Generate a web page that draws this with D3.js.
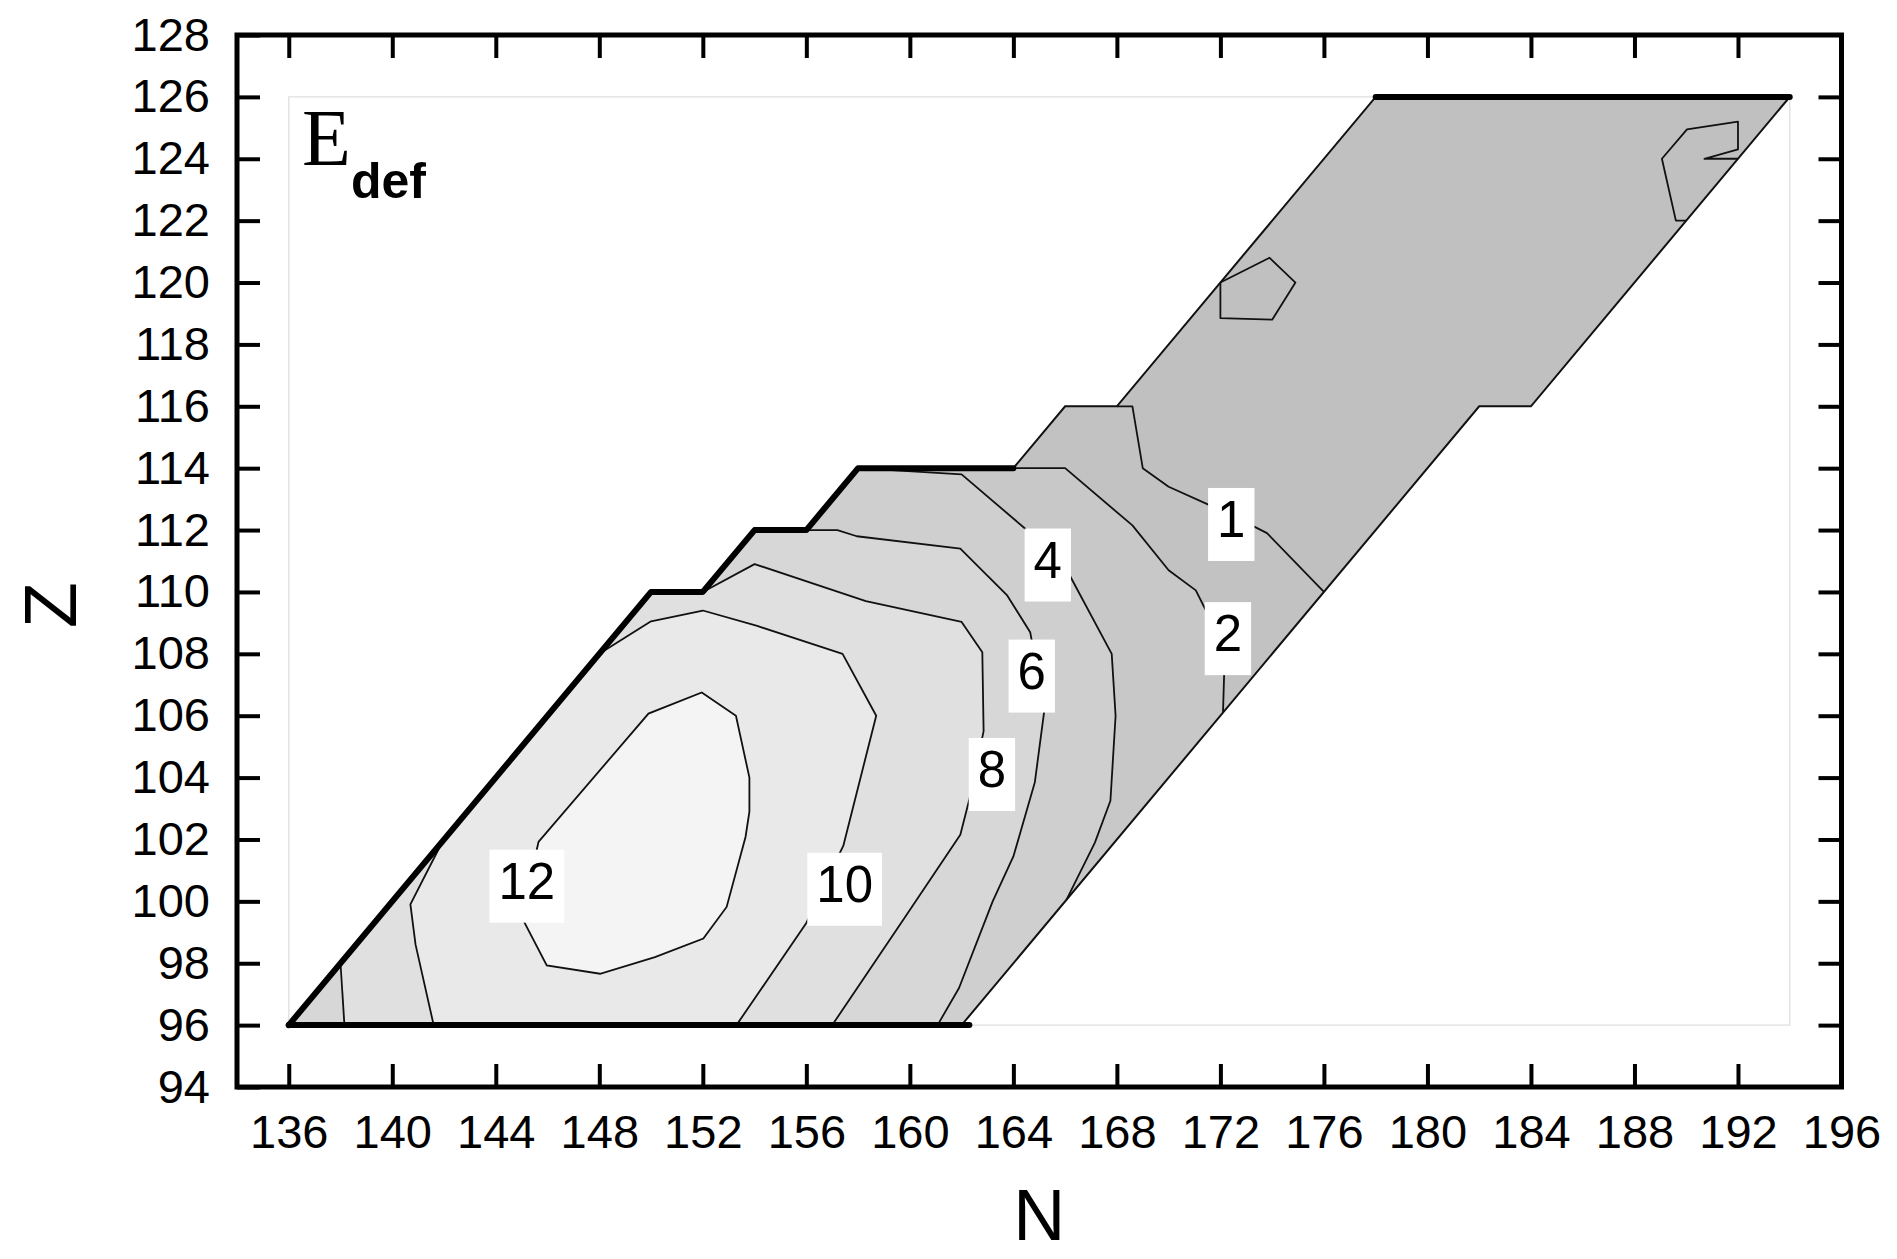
<!DOCTYPE html>
<html>
<head>
<meta charset="utf-8">
<script src="https://cdn.jsdelivr.net/npm/d3@7"></script>
<style>
  body { margin: 0; background: #fff; }
  svg { display: block; }
</style>
</head>
<body>
<div id="chart"></div>
<script>
// Axes
const nTicks = [136, 140, 144, 148, 152, 156, 160, 164, 168, 172, 176, 180, 184, 188, 192, 196];
const zTicks = [94, 96, 98, 100, 102, 104, 106, 108, 110, 112, 114, 116, 118, 120, 122, 124, 126, 128];

// Contour levels of E_def
const levels = [1, 2, 4, 6, 8, 10, 12];

// Border of the calculated region (N, Z)
const border = [[136, 96], [162, 96], [182, 116], [184, 116], [194, 126], [178, 126], [168, 116],
  [166, 116], [164, 114], [158, 114], [156, 112], [154, 112], [152, 110], [150, 110]];
// Lower and upper-left part of the border, from the lower right corner
const borderLeft = [[162, 96], [136, 96], [150, 110], [152, 110], [154, 112], [156, 112], [158, 114], [164, 114], [166, 116]];
// Border pieces drawn heavy
const heavyBottom = [[136, 96], [162.3, 96]];
const heavyStairs = [[136, 96], [150, 110], [152, 110], [154, 112], [156, 112], [158, 114], [164, 114]];
const heavyTop = [[178, 126], [194, 126]];

// Contour lines (N, Z)
const c1 = [[168, 116], [168.6, 116], [169, 114], [170, 113.4], [171.6, 112.8], [173.1, 112.2], [173.8, 111.9], [176, 110]];
const c2 = [[164, 114], [166, 114], [168.6, 112.15], [170, 110.7], [171.05, 110.05], [171.5, 109.3], [172.15, 107.5], [172.1, 106.1]];
const c4 = [[158, 114], [162, 113.8], [164.45, 112.05], [166.2, 110.5], [167.8, 108], [167.95, 106], [167.75, 103.25], [167.15, 101.9], [166.05, 100.05]];
const c6 = [[154, 112], [157.2, 112], [157.95, 111.8], [161.95, 111.4], [163.75, 109.9], [164.65, 108.7], [165.2, 106.2],
  [164.83, 103.85], [164, 101.45], [163.2, 100], [161.9, 97.2], [161.07, 96]];
const c8 = [[152, 110], [154, 110.9], [158.3, 109.7], [162, 109.03], [162.8, 108.05], [162.85, 105.5], [162.3, 103.3],
  [161.95, 102.15], [159.7, 99.35], [157, 96]];
const c8left = [[138, 98], [138.15, 96]];
const c10 = [[148, 108], [150, 109.05], [152, 109.4], [154.1, 108.9], [157.4, 108], [158.7, 106], [157.43, 101.8], [156, 99.3], [153.3, 96]];
const c10left = [[141.95, 101.95], [140.7, 99.9], [140.9, 98.6], [141.6, 96]];
const c12 = [[145.65, 101.92], [149.9, 106.07], [151.96, 106.75], [153.28, 106], [153.8, 104], [153.8, 102.9], [153.65, 102.08],
  [152.92, 99.82], [152.02, 98.8], [150.15, 98.2], [148.03, 97.66], [145.97, 97.93], [145, 99.49]];
// small islands in the upper part
const island1 = [[172, 120], [173.9, 120.8], [174.9, 120], [174, 118.8], [172, 118.85], [172, 120]];
const island2 = [[190, 122], [189.6, 122], [189.06, 124], [190.03, 124.95], [192, 125.2], [192, 124.3], [190.7, 124], [192, 124]];

// Contour labels (value, N, Z)
const labelText = ["12", "10", "8", "6", "4", "2", "1"];
const labelN = [145.2, 157.48, 163.17, 164.71, 165.33, 172.29, 172.42];
const labelZ = [100.68, 100.58, 104.29, 107.47, 111.06, 108.68, 112.37];

// gray for each band (below 1, then above each level)
const grays = ["#c0c0c0", "#c2c2c2", "#c8c8c8", "#cfcfcf", "#d7d7d7", "#e0e0e0", "#e9e9e9", "#f4f4f4"];

const W = 1897, H = 1259;
const svg = d3.select("#chart").append("svg")
  .attr("width", W).attr("height", H);

const x = d3.scaleLinear().domain([134, 196]).range([237, 1841.5]);
const y = d3.scaleLinear().domain([94, 128]).range([1087, 35]);

const line = d3.line().x(d => x(d[0])).y(d => y(d[1]));
const poly = pts => line(pts) + "Z";

// zones above each level
const zones = [
  c1.concat(borderLeft),
  c2.concat(borderLeft.slice(0, 7)),
  c4.concat(borderLeft.slice(0, 6)),
  c6.concat(borderLeft.slice(1, 4)),
  c8left.concat(c8.slice().reverse(), [[150, 110]]),
  c10left.concat(c10.slice().reverse()),
  c12
];

svg.append("clipPath").attr("id", "region")
  .append("path").attr("d", poly(border));

// faint grid frame
svg.append("rect")
  .attr("x", x(136)).attr("y", y(126))
  .attr("width", x(194) - x(136)).attr("height", y(96) - y(126))
  .attr("fill", "none").attr("stroke", "#e4e4e4").attr("stroke-width", 1.5);

const fillG = svg.append("g").attr("clip-path", "url(#region)");
fillG.append("path").attr("d", poly(border)).attr("fill", grays[0]);
fillG.selectAll("path.zone")
  .data(zones)
  .join("path")
  .attr("class", "zone")
  .attr("d", poly)
  .attr("fill", (d, i) => grays[i + 1]);

// contour lines
const lines = [c1, c2, c4, c6, c8, c8left, c10, c10left, island1, island2];
svg.append("g").selectAll("path")
  .data(lines)
  .join("path")
  .attr("d", line)
  .attr("fill", "none")
  .attr("stroke", "#111")
  .attr("stroke-width", 1.8)
  .attr("stroke-linejoin", "round");
svg.append("path").attr("d", poly(c12))
  .attr("fill", "none").attr("stroke", "#111").attr("stroke-width", 1.8);

// border
svg.append("path").attr("d", poly(border))
  .attr("fill", "none").attr("stroke", "#111").attr("stroke-width", 2);
svg.append("g").selectAll("path")
  .data([heavyBottom, heavyStairs, heavyTop])
  .join("path")
  .attr("d", line)
  .attr("fill", "none")
  .attr("stroke", "#000")
  .attr("stroke-width", 6)
  .attr("stroke-linecap", "round")
  .attr("stroke-linejoin", "round");

// contour labels with white boxes
const lab = svg.append("g").selectAll("g")
  .data(labelText)
  .join("g")
  .attr("transform", (d, i) => `translate(${x(labelN[i])},${y(labelZ[i])})`);
lab.append("text")
  .attr("text-anchor", "middle")
  .attr("dy", "0.36em")
  .style("font-family", "'Liberation Sans', Arial, sans-serif")
  .style("font-size", "51px")
  .text(d => d);
lab.each(function() {
  const g = d3.select(this);
  const b = g.select("text").node().getBBox();
  g.insert("rect", "text")
    .attr("x", b.x - 9).attr("y", b.y - 3)
    .attr("width", b.width + 18).attr("height", b.height + 16)
    .attr("fill", "#fff");
});

// axes
const fontAx = "'Liberation Sans', Arial, sans-serif";
const styleAxis = g => {
  g.select(".domain").remove();
  g.selectAll(".tick line").attr("stroke", "#000").attr("stroke-width", 4);
  g.selectAll(".tick text").style("font-family", fontAx).style("font-size", "47px").attr("fill", "#000");
};
svg.append("g")
  .attr("transform", `translate(0,${y(94)})`)
  .call(d3.axisBottom(x).tickValues(nTicks).tickSize(-23).tickPadding(28).tickFormat(d3.format("d")))
  .call(styleAxis);
svg.append("g")
  .attr("transform", `translate(0,${y(128)})`)
  .call(d3.axisTop(x).tickValues(nTicks.slice(0, -1)).tickSize(-23).tickFormat(""))
  .call(styleAxis);
svg.append("g")
  .attr("transform", `translate(${x(134)},0)`)
  .call(d3.axisLeft(y).tickValues(zTicks).tickSize(-23).tickPadding(27).tickFormat(d3.format("d")))
  .call(styleAxis);
svg.append("g")
  .attr("transform", `translate(${x(196)},0)`)
  .call(d3.axisRight(y).tickValues(zTicks.slice(1, -1)).tickSize(-23).tickFormat(""))
  .call(styleAxis);

svg.append("rect")
  .attr("x", x(134)).attr("y", y(128))
  .attr("width", x(196) - x(134)).attr("height", y(94) - y(128))
  .attr("fill", "none").attr("stroke", "#000").attr("stroke-width", 5);

// axis titles
svg.append("text")
  .attr("x", (x(134) + x(196)) / 2).attr("y", 1240)
  .attr("text-anchor", "middle")
  .style("font-family", fontAx).style("font-size", "72px")
  .text("N");
svg.append("text")
  .attr("transform", `translate(76,${(y(94) + y(128)) / 2 + 44}) rotate(-90)`)
  .attr("text-anchor", "middle")
  .style("font-family", fontAx).style("font-size", "75px")
  .text("Z");

// panel label
const t = svg.append("text").attr("x", 302).attr("y", 165);
t.append("tspan")
  .style("font-family", "'Liberation Serif', 'Times New Roman', serif")
  .style("font-size", "80px")
  .text("E");
t.append("tspan")
  .attr("dy", 33)
  .style("font-family", fontAx).style("font-size", "50px").style("font-weight", "bold")
  .text("def");
</script>
</body>
</html>
